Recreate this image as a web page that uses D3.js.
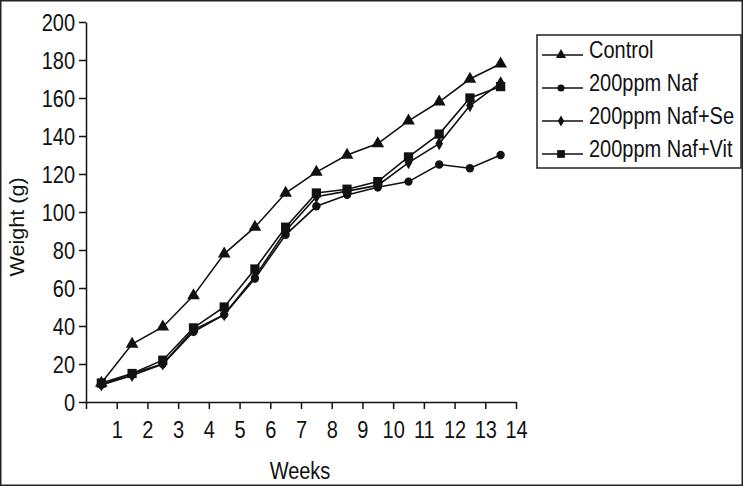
<!DOCTYPE html>
<html>
<head>
<meta charset="utf-8">
<script src="https://cdn.jsdelivr.net/npm/d3@7"></script>
<style>
  html, body { margin: 0; padding: 0; background: #fff; }
  svg { display: block; }
  text { font-family: "Liberation Sans", Arial, sans-serif; fill: #111; }
</style>
</head>
<body>
<svg id="chart" width="743" height="486"></svg>
<script>
// ---- data ----
const weeks = [0.5, 1.5, 2.5, 3.5, 4.5, 5.5, 6.5, 7.5, 8.5, 9.5, 10.5, 11.5, 12.5, 13.5];
const seriesNames = ["Control", "200ppm Naf", "200ppm Naf+Se", "200ppm Naf+Vit"];
const controlValues = [10, 30.5, 39.5, 56, 78, 92, 110, 121, 130, 136, 148, 158, 170, 178];
const nafValues     = [9, 15, 20, 37, 46, 65, 88, 103, 109, 113, 116, 125, 123, 130];
const nafSeValues   = [9, 14, 20, 38, 46, 66, 90, 108, 111, 114, 126, 136, 156, 168];
const nafVitValues  = [10, 15, 22, 39, 50, 70, 92, 110, 112, 116, 129, 141, 160, 166];
const xTickValues = [0, 1, 2, 3, 4, 5, 6, 7, 8, 9, 10, 11, 12, 13, 14];
const yTickValues = [0, 20, 40, 60, 80, 100, 120, 140, 160, 180, 200];
const xTitle = "Weeks";
const yTitle = "Weight (g)";

const seriesValues = [controlValues, nafValues, nafSeValues, nafVitValues];
const symbols = [d3.symbolTriangle, d3.symbolCircle, d3.symbolDiamond, d3.symbolSquare];
const symbolSizes = [70, 55, 50, 85];
const legendSymbolSizes = [45, 40, 35, 60];

const svg = d3.select("#chart");
const SY = 1.22; // vertical stretch of lettering in the reference

// outer frame
svg.append("rect").attr("x", 0.75).attr("y", 0.75).attr("width", 741.5).attr("height", 484.5)
  .attr("fill", "none").attr("stroke", "#222").attr("stroke-width", 1.5);

const x = d3.scaleLinear().domain([0, 14]).range([86, 516]);
const y = d3.scaleLinear().domain([0, 200]).range([402, 22]);

// y axis
const gy = svg.append("g").attr("transform", `translate(${x(0)},0)`)
  .call(d3.axisLeft(y).tickValues(yTickValues).tickSize(7).tickPadding(4).tickSizeOuter(0));
gy.select(".domain").attr("stroke", "#111").attr("stroke-width", 1.5);
gy.selectAll(".tick line").attr("stroke", "#111").attr("stroke-width", 1.5);
gy.selectAll(".tick text").attr("font-size", 20).attr("fill", "#111")
  .attr("font-family", "Liberation Sans, Arial, sans-serif")
  .attr("dy", "0.33em").attr("transform", `scale(1,${SY})`);

// x axis
const gx = svg.append("g").attr("transform", `translate(0,${y(0)})`)
  .call(d3.axisBottom(x).tickValues(xTickValues).tickSize(7).tickSizeOuter(0)
    .tickFormat(d => d === 0 ? "" : String(d)));
gx.select(".domain").attr("stroke", "#111").attr("stroke-width", 1.5);
gx.selectAll(".tick line").attr("stroke", "#111").attr("stroke-width", 1.5);
gx.selectAll(".tick text").attr("font-size", 20).attr("fill", "#111")
  .attr("font-family", "Liberation Sans, Arial, sans-serif")
  .attr("y", 36 / SY).attr("dy", 0).attr("transform", `scale(1,${SY})`);

// axis titles
svg.append("text").attr("transform", `translate(300,479) scale(1,${SY})`)
  .attr("text-anchor", "middle").attr("font-size", 20).text(xTitle);
svg.append("text").attr("transform", `translate(24,227) rotate(-90) scale(1.08,1)`)
  .attr("text-anchor", "middle").attr("font-size", 20).text(yTitle);

// lines and markers
const line = d3.line().x((d, i) => x(weeks[i])).y(d => y(d));
seriesValues.forEach((vals, si) => {
  svg.append("path").datum(vals).attr("d", line)
    .attr("fill", "none").attr("stroke", "#111").attr("stroke-width", 1.6);
});
seriesValues.forEach((vals, si) => {
  svg.append("g").selectAll("path").data(vals).join("path")
    .attr("transform", (d, i) => `translate(${x(weeks[i])},${y(d)})`)
    .attr("d", d3.symbol().type(symbols[si]).size(symbolSizes[si]))
    .attr("fill", "#111");
});

// legend
const lg = svg.append("g");
lg.append("rect").attr("x", 537).attr("y", 35).attr("width", 204).attr("height", 133)
  .attr("fill", "#fff").attr("stroke", "#222").attr("stroke-width", 1.5);
const baselines = [58, 91, 124, 157];
seriesNames.forEach((name, i) => {
  const ly = baselines[i] - 3;
  lg.append("line").attr("x1", 542).attr("x2", 583).attr("y1", ly).attr("y2", ly)
    .attr("stroke", "#111").attr("stroke-width", 1.6);
  lg.append("path").attr("transform", `translate(561,${ly})`)
    .attr("d", d3.symbol().type(symbols[i]).size(legendSymbolSizes[i])).attr("fill", "#111");
  lg.append("text").attr("transform", `translate(589,${baselines[i]}) scale(1,${SY})`)
    .attr("font-size", 20).text(name);
});
</script>
</body>
</html>
